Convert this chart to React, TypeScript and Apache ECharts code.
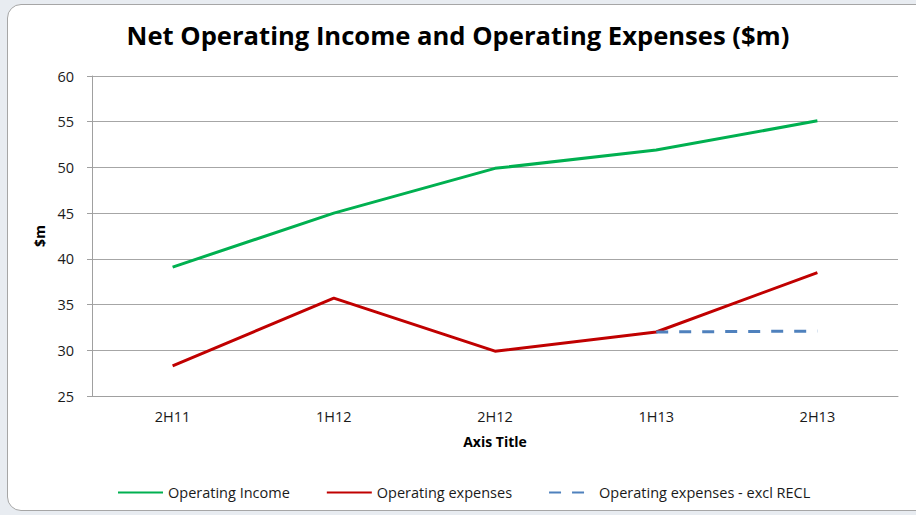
import React, { useEffect, useRef } from "react";
import * as echarts from "echarts";

const categories = ["2H11", "1H12", "2H12", "1H13", "2H13"];
const operatingIncome = [39.1, 45.0, 49.9, 51.9, 55.1];
const operatingExpenses = [28.3, 35.7, 29.9, 32.0, 38.5];
const expensesExclRecl = [null, null, null, 32.0, 32.1];
const yTicks = { min: 25, max: 60, interval: 5 };
const legendNames = ["Operating Income", "Operating expenses", "Operating expenses - excl RECL"];

const FONT = "'Open Sans', sans-serif";

export default function App() {
  const ref = useRef<HTMLDivElement>(null);
  useEffect(() => {
    if (!ref.current) return;
    const chart = echarts.init(ref.current, undefined, { renderer: "svg" });
    chart.setOption({
      animation: false,
      textStyle: { fontFamily: FONT },
      title: {
        text: "Net Operating Income and Operating Expenses ($m)",
        left: "center",
        top: 17,
        textStyle: { fontFamily: FONT, fontSize: 25.6, fontWeight: "bold", color: "#000" },
      },
      grid: { left: 92, right: 18, top: 76, bottom: 119 },
      legend: {
        left: 112,
        top: 480,
        itemWidth: 45,
        itemHeight: 14,
        itemGap: 36,
        itemStyle: { opacity: 0 },
        textStyle: { fontFamily: FONT, fontSize: 14.5, color: "#1a1a1a" },
        data: legendNames,
      },
      xAxis: {
        type: "category",
        data: categories,
        boundaryGap: true,
        axisLine: { lineStyle: { color: "#a0a0a0", width: 1 } },
        axisTick: { show: false },
        axisLabel: { color: "#1a1a1a", fontSize: 14.5, margin: 13, fontFamily: FONT },
        name: "Axis Title",
        nameLocation: "middle",
        nameGap: 38,
        nameTextStyle: { fontWeight: "bold", fontSize: 14, color: "#000", fontFamily: FONT },
      },
      yAxis: {
        type: "value",
        min: yTicks.min,
        max: yTicks.max,
        interval: yTicks.interval,
        axisLine: { show: true, lineStyle: { color: "#a0a0a0" } },
        axisTick: { show: true, length: 5, lineStyle: { color: "#a0a0a0" } },
        axisLabel: { color: "#1a1a1a", fontSize: 14.5, margin: 18, fontFamily: FONT },
        splitLine: { lineStyle: { color: "#a6a6a6", width: 1 } },
        name: "$m",
        nameLocation: "middle",
        nameGap: 43,
        nameTextStyle: { fontWeight: "bold", fontSize: 14, color: "#000", fontFamily: FONT },
      },
      series: [
        {
          name: legendNames[0],
          type: "line",
          data: operatingIncome,
          symbol: "none",
          lineStyle: { color: "#00b050", width: 3 },
          itemStyle: { color: "#00b050" },
        },
        {
          name: legendNames[1],
          type: "line",
          data: operatingExpenses,
          symbol: "none",
          lineStyle: { color: "#c00000", width: 3 },
          itemStyle: { color: "#c00000" },
        },
        {
          name: legendNames[2],
          type: "line",
          data: expensesExclRecl,
          symbol: "none",
          lineStyle: { color: "#4f81bd", width: 3, type: [12, 11] },
          itemStyle: { color: "#4f81bd" },
        },
      ],
    });
    return () => chart.dispose();
  }, []);

  return (
    <div style={{ position: "fixed", left: 0, top: 0, width: 916, height: 515, background: "#e8ecf1", overflow: "hidden" }}>
      <div
        style={{
          position: "absolute",
          left: 7,
          top: 4,
          width: 930,
          height: 507,
          background: "#fff",
          border: "1px solid #a6a6a6",
          borderRadius: 14,
          boxSizing: "border-box",
        }}
      />
      <div ref={ref} style={{ position: "absolute", left: 0, top: 0, width: 916, height: 515 }} />
    </div>
  );
}
